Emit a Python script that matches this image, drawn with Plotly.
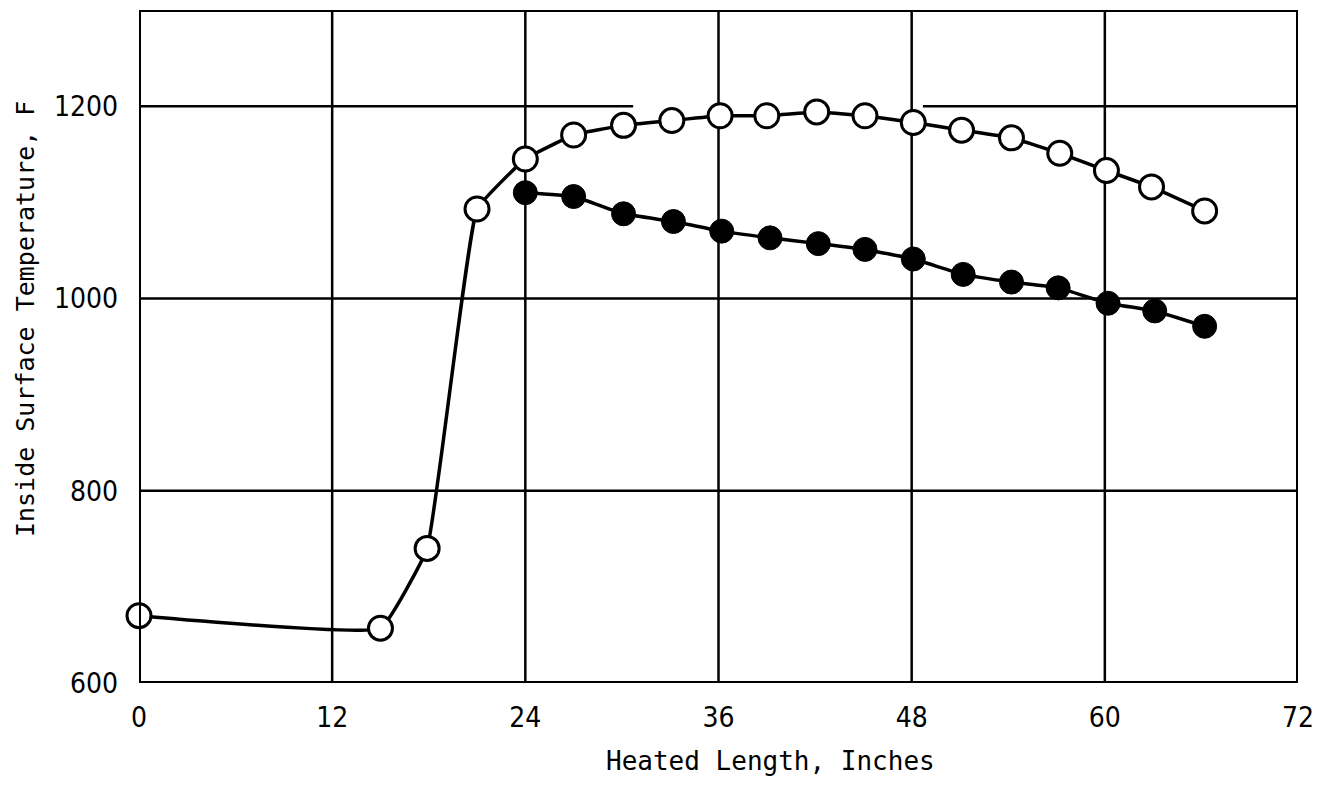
import plotly.graph_objects as go

# Open circles series
open_x = [0, 15.0, 17.9, 21.0, 24.0, 27.0, 30.1, 33.1, 36.1, 39.0, 42.1, 45.1,
          48.1, 51.1, 54.2, 57.2, 60.1, 62.9, 66.2]
open_y = [670, 657, 740, 1093, 1145, 1170, 1180, 1185, 1190, 1190, 1194, 1190,
          1183, 1175, 1167, 1151, 1133, 1116, 1091]

# Filled circles series
fill_x = [24.0, 27.0, 30.1, 33.2, 36.2, 39.2, 42.2, 45.1, 48.1, 51.2, 54.2,
          57.1, 60.2, 63.1, 66.2]
fill_y = [1110, 1106, 1088, 1080, 1070, 1063, 1057, 1051, 1041, 1025, 1017,
          1011, 995, 987, 971]

x_ticks = [0, 12, 24, 36, 48, 60, 72]
y_ticks = [600, 800, 1000, 1200]

x_title = "Heated Length, Inches"
y_title = "Inside Surface Temperature, F"

TICK_FONT = "DejaVu Sans Condensed, Roboto Condensed, Roboto, sans-serif"
TITLE_FONT = "DejaVu Sans Mono, Liberation Mono, monospace"

fig = go.Figure()

fig.add_trace(go.Scatter(
    x=fill_x, y=fill_y, mode="lines+markers",
    line=dict(color="black", width=3.5, shape="spline", smoothing=0.4),
    marker=dict(size=24, color="black", line=dict(color="black", width=1)),
    showlegend=False, cliponaxis=False))

fig.add_trace(go.Scatter(
    x=open_x, y=open_y, mode="lines+markers",
    line=dict(color="black", width=3.5, shape="spline", smoothing=0.3),
    marker=dict(size=24, color="white", line=dict(color="black", width=3)),
    showlegend=False, cliponaxis=False))

shapes = []
for xv in [12, 24, 36, 48, 60]:
    shapes.append(dict(type="line", xref="x", yref="y", x0=xv, x1=xv, y0=600, y1=1300,
                       line=dict(color="black", width=2.5), layer="below"))
for (x0, x1, yv) in [(0, 72, 800), (0, 72, 1000), (0, 30.7, 1200), (48.7, 72, 1200)]:
    shapes.append(dict(type="line", xref="x", yref="y", x0=x0, x1=x1, y0=yv, y1=yv,
                       line=dict(color="black", width=2.5), layer="below"))
shapes.append(dict(type="rect", xref="x", yref="y", x0=0, x1=72, y0=600, y1=1300,
                   line=dict(color="black", width=4), layer="above"))

annotations = [
    dict(text=x_title, xref="paper", yref="paper", x=0.545, y=0, yshift=-78,
         xanchor="center", yanchor="middle", showarrow=False,
         font=dict(family=TITLE_FONT, size=26, color="black")),
    dict(text=y_title, xref="paper", yref="paper", x=-0.0985, y=0.542,
         xanchor="center", yanchor="middle", textangle=-90, showarrow=False,
         borderpad=0,
         font=dict(family=TITLE_FONT, size=25, color="black")),
]

fig.update_layout(
    width=1334, height=786,
    margin=dict(l=131, r=44, t=2, b=111),
    paper_bgcolor="white", plot_bgcolor="white",
    shapes=shapes, annotations=annotations,
    font=dict(family=TICK_FONT, color="black"),
    xaxis=dict(range=[0, 72], tickvals=x_ticks, ticktext=[str(v) for v in x_ticks],
               showgrid=False, zeroline=False, showline=False, ticks="",
               automargin=False,
               tickfont=dict(family=TICK_FONT, size=28),
               ticklabelstandoff=15),
    yaxis=dict(range=[600, 1300], tickvals=y_ticks, ticktext=[str(v) for v in y_ticks],
               showgrid=False, zeroline=False, showline=False, ticks="",
               automargin=False,
               tickfont=dict(family=TICK_FONT, size=28),
               ticklabelstandoff=20),
)

fig.write_html("out.html")
